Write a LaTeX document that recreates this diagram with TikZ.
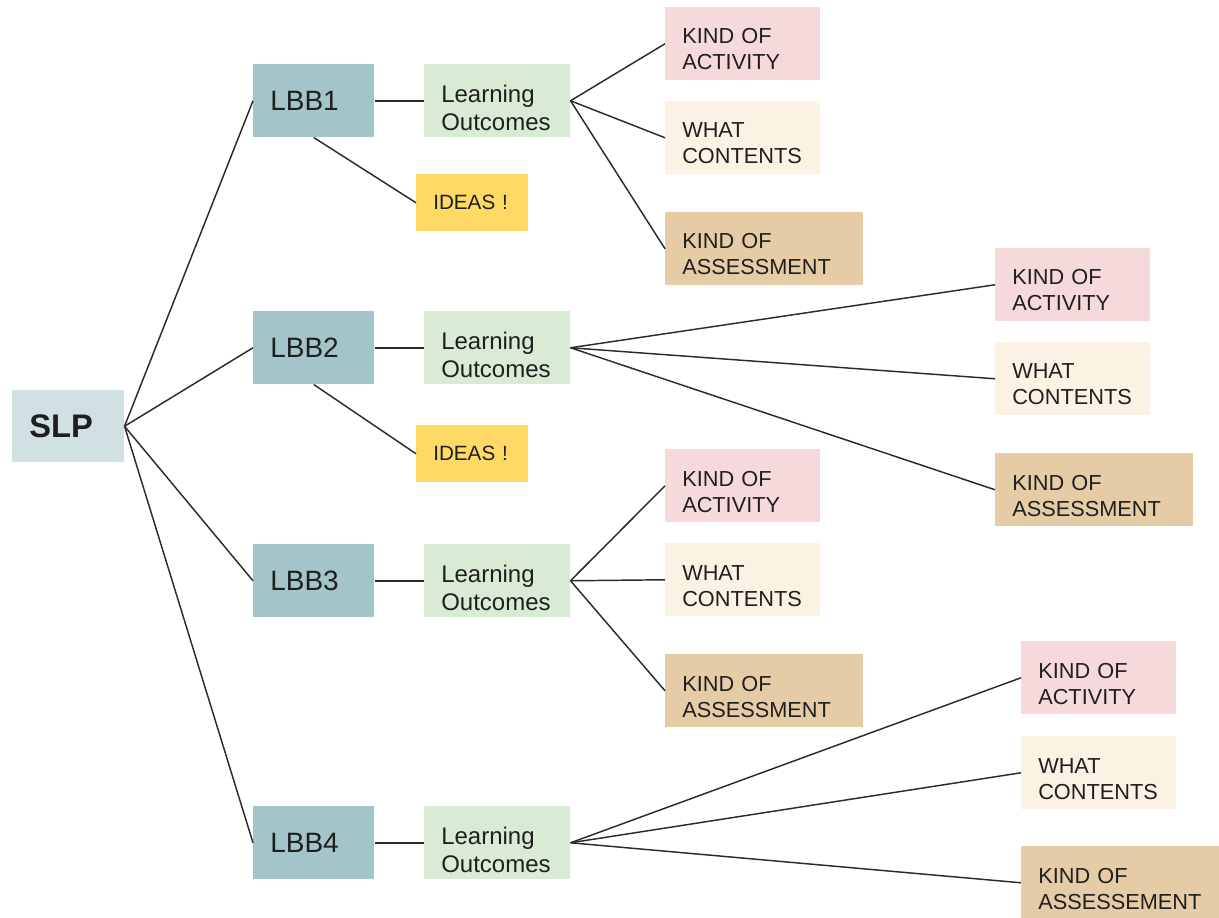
\documentclass[tikz,border=0pt]{standalone}
\usepackage{fontspec}
\setmainfont{Liberation Sans}
\usepackage{xcolor}
\usepackage{tikz}

\definecolor{slpfill}{rgb}{0.82,0.88,0.89}
\definecolor{lbbfill}{rgb}{0.64,0.77,0.79}
\definecolor{lofill}{rgb}{0.85,0.92,0.83}
\definecolor{ideafill}{rgb}{1,0.85,0.4}
\definecolor{actfill}{rgb}{0.96,0.85,0.86}
\definecolor{contfill}{rgb}{0.99,0.95,0.89}
\definecolor{assfill}{rgb}{0.9,0.8,0.65}
\definecolor{linkcol}{rgb}{0.17,0.17,0.17}

\tikzset{
  box/.style={anchor=north west, inner xsep=12.75pt, inner ysep=0pt, align=left, text=black!88},
  slpbox/.style={box, fill=slpfill, text width=58.5pt, minimum height=54pt, font=\fontsize{24.5}{28}\selectfont\bfseries},
  lbbbox/.style={box, fill=lbbfill, text width=65.25pt, minimum height=54.75pt, font=\fontsize{21}{25}\selectfont},
  lobox/.style={box, fill=lofill, text width=84pt, minimum height=54.75pt, font=\fontsize{18}{21}\selectfont,
    execute at begin node={\rule{0pt}{24pt}}},
  ideabox/.style={box, fill=ideafill, text width=58.5pt, minimum height=42.75pt, font=\fontsize{15.5}{19}\selectfont},
  kindbox/.style={box, minimum height=54.75pt, font=\fontsize{16.3}{19.5}\selectfont,
    execute at begin node={\rule{0pt}{20pt}}},
  actbox/.style={kindbox, fill=actfill, text width=90.75pt},
  contbox/.style={kindbox, fill=contfill, text width=90.75pt},
  assbox/.style={kindbox, fill=assfill, text width=123pt},
  link/.style={draw=linkcol, line width=1.1pt}
}

\begin{document}
\begin{tikzpicture}[x=0.75pt,y=0.75pt,yscale=-1,xscale=1]
\useasboundingbox (0,0) rectangle (1219,917);

% Root
\node [slpbox] (slp) at (12,390) {SLP};

% LBB Nodes
\node [lbbbox] (lbb1) at (253,64) {LBB1};
\node [lbbbox] (lbb2) at (253,311) {LBB2};
\node [lbbbox] (lbb3) at (253,544) {LBB3};
\node [lbbbox] (lbb4) at (253,806) {LBB4};

% Learning Outcomes
\node [lobox] (lo1) at (424,64) {Learning\\Outcomes};
\node [lobox] (lo2) at (424,311) {Learning\\Outcomes};
\node [lobox] (lo3) at (424,544) {Learning\\Outcomes};
\node [lobox] (lo4) at (424,806) {Learning\\Outcomes};

% Ideas
\node [ideabox] (idea1) at (416,174) {IDEAS !};
\node [ideabox] (idea2) at (416,425) {IDEAS !};

% Group 1
\node [actbox] (act1) at (665,7) {KIND OF\\ACTIVITY};
\node [contbox] (cont1) at (665,101) {WHAT\\CONTENTS};
\node [assbox] (ass1) at (665,212) {KIND OF\\ASSESSMENT};

% Group 2
\node [actbox] (act2) at (995,248) {KIND OF\\ACTIVITY};
\node [contbox] (cont2) at (995,342) {WHAT\\CONTENTS};
\node [assbox] (ass2) at (995,453) {KIND OF\\ASSESSMENT};

% Group 3
\node [actbox] (act3) at (665,449) {KIND OF\\ACTIVITY};
\node [contbox] (cont3) at (665,543) {WHAT\\CONTENTS};
\node [assbox] (ass3) at (665,654) {KIND OF\\ASSESSMENT};

% Group 4
\node [actbox] (act4) at (1021,641) {KIND OF\\ACTIVITY};
\node [contbox] (cont4) at (1021,736) {WHAT\\CONTENTS};
\node [assbox] (ass4) at (1021,846) {KIND OF\\ASSESSEMENT};

%Straight Lines
\foreach \i in {1,...,4} {
  \draw [link] (slp.east) -- (lbb\i.west);
  \draw [link] (lbb\i.east) -- (lo\i.west);
  \draw [link] (lo\i.east) -- (act\i.west);
  \draw [link] (lo\i.east) -- (cont\i.west);
  \draw [link] (lo\i.east) -- (ass\i.west);
}
\draw [link] (lbb1.south) -- (idea1.west);
\draw [link] (lbb2.south) -- (idea2.west);

\end{tikzpicture}
\end{document}
